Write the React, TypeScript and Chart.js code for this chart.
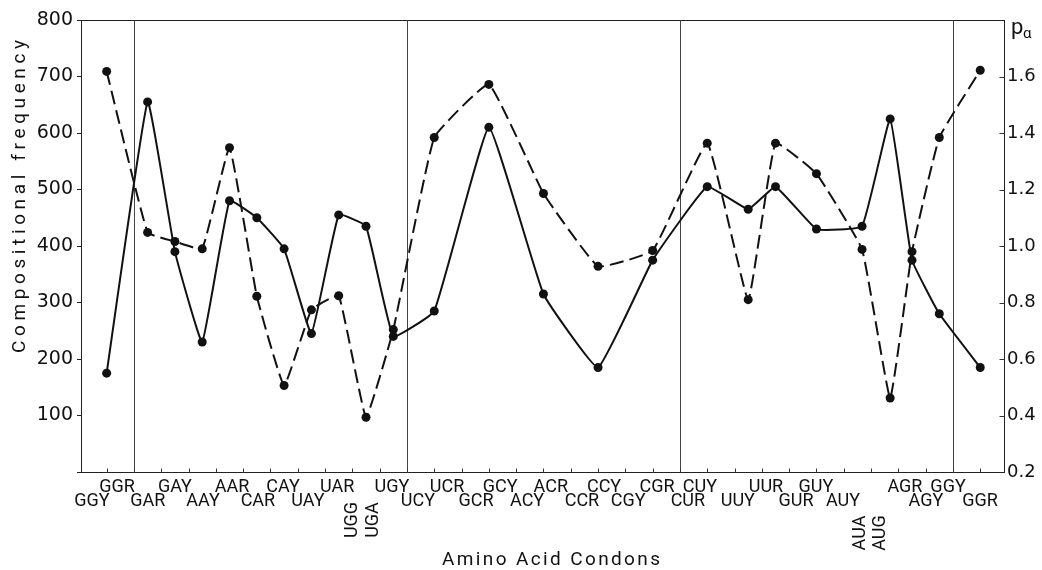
import { useEffect, useRef } from "react";
import { Chart, registerables } from "chart.js";

Chart.register(...registerables);

// Position of each amino-acid point along the codon axis (axis units, one unit per tick)
const positions = [-1, 0.5, 1.5, 2.5, 3.5, 4.5, 5.5, 6.5, 7.5, 8.5, 9.5, 11, 13, 15, 17, 19, 21, 22.5, 23.5, 25, 26.67, 27.7, 28.5, 29.5, 31];

// Dashed series: compositional frequency (left axis)
const compositionalFrequency = [709, 424, 408, 395, 574, 311, 153, 287, 312, 97, 252, 592, 686, 493, 364, 392, 582, 305, 582, 528, 394, 131, 390, 592, 711];

// Solid series: P-alpha (right axis)
const pAlpha = [0.55, 1.51, 0.98, 0.66, 1.16, 1.10, 0.99, 0.69, 1.11, 1.07, 0.68, 0.77, 1.42, 0.83, 0.57, 0.95, 1.21, 1.13, 1.21, 1.06, 1.07, 1.45, 0.95, 0.76, 0.57];

// Codon tick labels (two staggered rows plus vertical ones)
const upperLabels = ["GGR", "GAY", "AAR", "CAY", "UAR", "UGY", "UCR", "GCY", "ACR", "CCY", "CGR", "CUY", "UUR", "GUY", "AGR", "GGY"];
const upperLabelPos = [-0.62, 1.5, 3.59, 5.46, 7.44, 9.45, 11.47, 13.41, 15.27, 17.22, 19.16, 20.73, 23.15, 24.98, 28.24, 29.82];
const lowerLabels = ["GGY", "GAR", "AAY", "CAR", "UAY", "UCY", "GCR", "ACY", "CCR", "CGY", "CUR", "UUY", "GUR", "AUY", "AGY", "GGR"];
const lowerLabelPos = [-1.54, 0.51, 2.53, 4.54, 6.37, 10.4, 12.53, 14.4, 16.41, 18.1, 20.29, 22.12, 24.25, 25.97, 29.01, 30.99];
const verticalLabels = ["UGG", "UGA", "AUA", "AUG"];
const verticalLabelPos = [7.99, 8.79, 26.63, 27.36];

const codonTicks = Array.from({ length: 33 }, (_, i) => i - 1);
const dividerTicks = [0, 10, 20, 30];
const rightTicks = [0.4, 0.6, 0.8, 1.0, 1.2, 1.4, 1.6];

const INK = "#111";
const LETTER_FONT = "Roboto, 'DejaVu Sans', sans-serif";
const DIGIT_FONT = "'DejaVu Sans', sans-serif";

function drawSpaced(ctx: CanvasRenderingContext2D, text: string, x0: number, y: number, target: number) {
  const chars = [...text];
  const widths = chars.map((c) => ctx.measureText(c).width);
  const sum = widths.reduce((a, b) => a + b, 0);
  const gap = chars.length > 1 ? (target - sum) / (chars.length - 1) : 0;
  let x = x0;
  ctx.textAlign = "left";
  chars.forEach((c, i) => {
    ctx.fillText(c, x, y);
    x += widths[i] + gap;
  });
}

const decorPlugin = {
  id: "decor",
  beforeDatasetsDraw(chart: any) {
    const { ctx, chartArea } = chart;
    const xs = chart.scales.x;
    const y1 = chart.scales.y1;
    const L = Math.round(chartArea.left) + 0.5;
    const R = Math.round(chartArea.right) + 0.5;
    const T = Math.round(chartArea.top) + 0.5;
    const B = Math.round(chartArea.bottom) + 0.5;
    ctx.save();
    ctx.strokeStyle = "#222";
    ctx.lineWidth = 1;
    ctx.strokeRect(L, T, R - L, B - T);
    ctx.strokeStyle = "#444";
    dividerTicks.forEach((v) => {
      const x = Math.round(xs.getPixelForValue(v)) + 0.5;
      ctx.beginPath();
      ctx.moveTo(x, T);
      ctx.lineTo(x, B);
      ctx.stroke();
    });
    ctx.strokeStyle = "#333";
    codonTicks.forEach((v) => {
      const x = Math.round(xs.getPixelForValue(v)) + 0.5;
      ctx.beginPath();
      ctx.moveTo(x, B);
      ctx.lineTo(x, B - 4);
      ctx.stroke();
    });
    rightTicks.forEach((v) => {
      const y = Math.round(y1.getPixelForValue(v)) + 0.5;
      ctx.beginPath();
      ctx.moveTo(R, y);
      ctx.lineTo(R - 5, y);
      ctx.stroke();
    });
    ctx.restore();
  },
  afterDraw(chart: any) {
    const { ctx } = chart;
    const xs = chart.scales.x;
    ctx.save();
    ctx.fillStyle = INK;
    ctx.font = `18px ${LETTER_FONT}`;
    ctx.textAlign = "center";
    ctx.textBaseline = "alphabetic";
    upperLabels.forEach((t, i) => {
      ctx.fillText(t, xs.getPixelForValue(upperLabelPos[i]), 492);
    });
    lowerLabels.forEach((t, i) => {
      ctx.fillText(t, xs.getPixelForValue(lowerLabelPos[i]), 506);
    });
    verticalLabels.forEach((t, i) => {
      const x = xs.getPixelForValue(verticalLabelPos[i]);
      const y = i < 2 ? 520 : 533;
      ctx.save();
      ctx.translate(x, y);
      ctx.rotate(-Math.PI / 2);
      ctx.textAlign = "center";
      ctx.textBaseline = "middle";
      ctx.fillText(t, 0, 0);
      ctx.restore();
    });
    ctx.font = `19px ${LETTER_FONT}`;
    ctx.textBaseline = "alphabetic";
    drawSpaced(ctx, "Amino Acid Condons", 442, 565, 218);
    ctx.save();
    ctx.translate(25, 353);
    ctx.rotate(-Math.PI / 2);
    ctx.font = `19px ${LETTER_FONT}`;
    drawSpaced(ctx, "Compositional frequency", 0, 0, 313);
    ctx.restore();
    ctx.textAlign = "left";
    ctx.font = `22px ${LETTER_FONT}`;
    ctx.fillText("p", 1011, 34);
    ctx.font = `15px ${LETTER_FONT}`;
    ctx.fillText("α", 1023, 38);
    ctx.restore();
  },
};

export default function App() {
  const ref = useRef<HTMLCanvasElement | null>(null);
  useEffect(() => {
    if (!ref.current) return;
    const chart = new Chart(ref.current, {
      type: "line",
      data: {
        datasets: [
          {
            label: "Compositional frequency",
            data: positions.map((x, i) => ({ x, y: compositionalFrequency[i] })),
            yAxisID: "y",
            borderColor: INK,
            backgroundColor: INK,
            borderWidth: 2,
            borderDash: [14, 6],
            pointRadius: 4.5,
            pointHoverRadius: 4.5,
            pointBackgroundColor: INK,
            pointBorderWidth: 0,
            tension: 0.1,
          },
          {
            label: "Pα",
            data: positions.map((x, i) => ({ x, y: pAlpha[i] })),
            yAxisID: "y1",
            borderColor: INK,
            backgroundColor: INK,
            borderWidth: 2,
            pointRadius: 4.5,
            pointHoverRadius: 4.5,
            pointBackgroundColor: INK,
            pointBorderWidth: 0,
            tension: 0.1,
          },
        ],
      },
      options: {
        responsive: false,
        animation: false,
        layout: { padding: { top: 20, bottom: 98, left: 0, right: 0 } },
        plugins: { legend: { display: false }, tooltip: { enabled: false } },
        scales: {
          x: { type: "linear", min: -1.94, max: 31.87, display: false },
          y: {
            position: "left",
            min: 0,
            max: 800,
            afterFit: (s: any) => {
              s.width = 81;
            },
            ticks: {
              stepSize: 100,
              color: INK,
              padding: 4,
              font: { family: DIGIT_FONT, size: 19 },
              callback: (v: any) => (Number(v) === 0 ? "" : String(v)),
            },
            grid: { drawOnChartArea: false, tickLength: 4, color: "#222" },
            border: { color: "#222", width: 1 },
          },
          y1: {
            position: "right",
            min: 0.2,
            max: 1.8,
            afterFit: (s: any) => {
              s.width = 38;
            },
            ticks: {
              stepSize: 0.2,
              color: INK,
              padding: 3,
              font: { family: DIGIT_FONT, size: 18 },
              callback: (v: any) => (Math.abs(Number(v) - 1.8) < 1e-6 ? "" : Number(v).toFixed(1)),
            },
            grid: { display: false, drawTicks: false },
            border: { color: "#222", width: 1 },
          },
        },
      },
      plugins: [decorPlugin],
    });
    return () => chart.destroy();
  }, []);
  return (
    <div style={{ position: "absolute", left: 0, top: 0, width: 1042, height: 570, background: "#fff" }}>
      <canvas ref={ref} width={1042} height={570} style={{ width: 1042, height: 570, display: "block" }} />
    </div>
  );
}
